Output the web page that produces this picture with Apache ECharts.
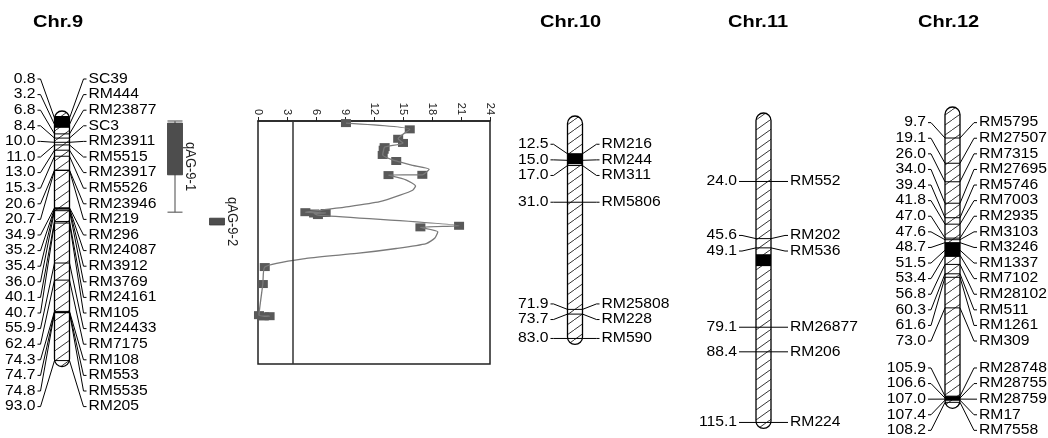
<!DOCTYPE html>
<html>
<head>
<meta charset="utf-8">
<style>
  html, body { margin: 0; padding: 0; background: #fff; }
  #chart { width: 1048px; height: 438px; }
</style>
</head>
<body>
<div id="chart"></div>
<script src="https://cdn.jsdelivr.net/npm/echarts@6/dist/echarts.min.js"></script>
<script>
// 染色体标记位置 (cM) 与名称
const chromTitles = ['Chr.9', 'Chr.10', 'Chr.11', 'Chr.12']
const chr9Pos = [0.8, 3.2, 6.8, 8.4, 10.0, 11.0, 13.0, 15.3, 20.6, 20.7, 34.9, 35.2, 35.4, 36.0, 40.1, 40.7, 55.9, 62.4, 74.3, 74.7, 74.8, 93.0]
const chr9Names = ['SC39', 'RM444', 'RM23877', 'SC3', 'RM23911', 'RM5515', 'RM23917', 'RM5526', 'RM23946', 'RM219', 'RM296', 'RM24087', 'RM3912', 'RM3769', 'RM24161', 'RM105', 'RM24433', 'RM7175', 'RM108', 'RM553', 'RM5535', 'RM205']
const chr9Bands = [[0, 4.5]]
const chr10Pos = [12.5, 15.0, 17.0, 31.0, 71.9, 73.7, 83.0]
const chr10Names = ['RM216', 'RM244', 'RM311', 'RM5806', 'RM25808', 'RM228', 'RM590']
const chr10Bands = [[12.5, 16.5]]
const chr11Pos = [24.0, 45.6, 49.1, 79.1, 88.4, 115.1]
const chr11Names = ['RM552', 'RM202', 'RM536', 'RM26877', 'RM206', 'RM224']
const chr11Bands = [[51.5, 56.0]]
const chr12Pos = [9.7, 19.1, 26.0, 34.0, 39.4, 41.8, 47.0, 47.6, 48.7, 51.5, 53.4, 56.8, 60.3, 61.6, 73.0, 105.9, 106.6, 107.0, 107.4, 108.2]
const chr12Names = ['RM5795', 'RM27507', 'RM7315', 'RM27695', 'RM5746', 'RM7003', 'RM2935', 'RM3103', 'RM3246', 'RM1337', 'RM7102', 'RM28102', 'RM511', 'RM1261', 'RM309', 'RM28748', 'RM28755', 'RM28759', 'RM17', 'RM7558']
const chr12Bands = [[48.7, 54.0], [105.9, 107.4]]

// Chr.9 LOD 曲线
const lodCurvePos = [0.8, 3.2, 6.8, 8.4, 10.0, 11.0, 13.0, 15.3, 17.0, 18.5, 20.6, 20.7, 22.5, 24.9, 26.5, 28.4, 30.9, 32.8, 34.1, 34.9, 35.2, 35.4, 36.0, 40.1, 40.7, 42.4, 44.8, 46.9, 48.8, 50.7, 52.6, 55.9, 62.4, 74.3, 74.7, 74.8]
const lodCurveVal = [9.1, 15.7, 14.5, 15.0, 13.1, 13.0, 12.9, 14.3, 16.0, 17.7, 17.0, 13.5, 15.3, 16.3, 16.0, 14.7, 12.6, 9.4, 6.6, 4.9, 7.0, 5.8, 6.2, 20.8, 16.8, 18.6, 18.3, 17.4, 14.3, 10.2, 5.0, 0.7, 0.5, 0.1, 1.2, 0.6]
const lodMarkerVal = [9.1, 15.7, 14.5, 15.0, 13.1, 13.0, 12.9, 14.3, 17.0, 13.5, 4.9, 7.0, 5.8, 6.2, 20.8, 16.8, 0.7, 0.5, 0.1, 1.2, 0.6, null]
const lodThreshold = 3.6
const lodMin = 0
const lodMax = 24
const lodStep = 3

// QTL 区间
const qtlNames = ['qAG-9-1', 'qAG-9-2']
const qtlBoxStart = [0.8, 37.2]
const qtlBoxEnd = [20.6, 39.8]
const qtlWhiskerStart = [0, null]
const qtlWhiskerEnd = [34.9, null]

// 布局
const chromW = 15
const labelGap = 15.6
const labelOffset = 19
const labelFont = '14px "Liberation Sans", Arial, sans-serif'
const labelScale = 1.12
const chromLayout = [
  { pos: chr9Pos, names: chr9Names, bands: chr9Bands, center: 62, top: 116, height: 263, max: 100, minLabelY: 79, titleX: 33 },
  { pos: chr10Pos, names: chr10Names, bands: chr10Bands, center: 575, top: 121, height: 262, max: 100, minLabelY: 60, titleX: 540 },
  { pos: chr11Pos, names: chr11Names, bands: chr11Bands, center: 763.5, top: 118, height: 317.4, max: 120, minLabelY: 60, titleX: 728 },
  { pos: chr12Pos, names: chr12Names, bands: chr12Bands, center: 952.5, top: 112, height: 322, max: 120, minLabelY: 60, titleX: 918 }
]

// 斜线填充
const hatch = document.createElement('canvas')
hatch.width = 14
hatch.height = 10
const hctx = hatch.getContext('2d')
hctx.fillStyle = '#fff'
hctx.fillRect(0, 0, 14, 10)
hctx.strokeStyle = '#000'
hctx.lineWidth = 0.8
hctx.beginPath()
hctx.moveTo(0, 10)
hctx.lineTo(14, 0)
hctx.stroke()

// 标签过密时均匀展开
function spreadLabels(ys, gap, minY) {
  let cl = ys.map((y) => ({ n: 1, sum: y, first: y }))
  let changed = true
  while (changed) {
    changed = false
    cl.forEach((c) => {
      c.first = Math.max(minY, c.sum / c.n - ((c.n - 1) * gap) / 2)
    })
    for (let i = 1; i < cl.length; i++) {
      const a = cl[i - 1]
      const b = cl[i]
      if (b.first < a.first + a.n * gap - 0.01) {
        const m = { n: a.n + b.n, sum: a.sum + b.sum, first: 0 }
        m.first = Math.max(minY, m.sum / m.n - ((m.n - 1) * gap) / 2)
        cl.splice(i - 1, 2, m)
        changed = true
        break
      }
    }
  }
  const out = []
  cl.forEach((c) => {
    for (let k = 0; k < c.n; k++) out.push(c.first + k * gap)
  })
  return out
}

const grids = []
const xAxes = []
const yAxes = []
const series = []
const graphics = []

chromLayout.forEach((c, k) => {
  grids.push({ left: c.center - 50, width: 100, top: c.top, height: c.height, outerBoundsMode: 'none' })
  xAxes.push({ gridIndex: k, type: 'value', min: -1, max: 1, show: false })
  yAxes.push({ gridIndex: k, type: 'value', min: 0, max: c.max, inverse: true, show: false })
  graphics.push({
    type: 'text',
    x: c.titleX,
    y: 15,
    scaleX: 1.25,
    style: { text: chromTitles[k], font: 'bold 16px "Liberation Sans", Arial, sans-serif', fill: '#000' }
  })

  // 染色体主体
  series.push({
    type: 'custom',
    xAxisIndex: k,
    yAxisIndex: k,
    clip: false,
    silent: true,
    data: [[0, 0, c.pos[c.pos.length - 1]]],
    renderItem: (params, api) => {
      const top = api.coord([0, api.value(1)])
      const bot = api.coord([0, api.value(2)])
      const x0 = top[0] - chromW / 2
      const y0 = top[1] - 5
      const y1 = bot[1] + 6
      const children = [
        { type: 'rect', shape: { x: x0, y: y0, width: chromW, height: y1 - y0, r: chromW / 2 }, style: { fill: { image: hatch, repeat: 'repeat' }, stroke: null } }
      ]
      c.bands.forEach((b) => {
        const a = api.coord([0, b[0]])[1]
        const e = api.coord([0, b[1]])[1]
        children.push({ type: 'rect', shape: { x: x0, y: a, width: chromW, height: e - a }, style: { fill: '#000' } })
      })
      children.push({ type: 'rect', shape: { x: x0, y: y0, width: chromW, height: y1 - y0, r: chromW / 2 }, style: { fill: null, stroke: '#000', lineWidth: 1.3 } })
      return { type: 'group', children }
    }
  })

  // 标记与标签
  series.push({
    type: 'custom',
    xAxisIndex: k,
    yAxisIndex: k,
    clip: false,
    silent: true,
    data: c.pos.map((p) => [0, p]),
    renderItem: (params, api) => {
      const ys = c.pos.map((p) => api.coord([0, p])[1])
      const ly = spreadLabels(ys, labelGap, c.minLabelY)
      const i = params.dataIndex
      const pt = api.coord([0, c.pos[i]])
      const cx = pt[0]
      const my = pt[1]
      const half = chromW / 2
      const lx = cx - half - labelOffset
      const rx = cx + half + labelOffset
      return {
        type: 'group',
        children: [
          {
            type: 'polyline',
            shape: { points: [[lx + 2, ly[i]], [lx + 5, ly[i]], [cx - half, my], [cx + half, my], [rx - 5, ly[i]], [rx - 2, ly[i]]] },
            style: { stroke: '#000', lineWidth: 1, fill: null }
          },
          { type: 'text', x: lx, y: ly[i], scaleX: labelScale, style: { text: c.pos[i].toFixed(1), align: 'right', verticalAlign: 'middle', font: labelFont, fill: '#000' } },
          { type: 'text', x: rx, y: ly[i], scaleX: labelScale, style: { text: c.names[i], align: 'left', verticalAlign: 'middle', font: labelFont, fill: '#000' } }
        ]
      }
    }
  })
})

// LOD 图
const chr9Len = chr9Pos[chr9Pos.length - 1]
grids.push({ left: 258, top: 121, width: 232, height: 243, show: true, borderColor: '#222', borderWidth: 1.5, outerBoundsMode: 'none' })
xAxes.push({
  gridIndex: 4,
  type: 'value',
  position: 'top',
  min: lodMin,
  max: lodMax,
  interval: lodStep,
  axisLine: { show: true, lineStyle: { color: '#222', width: 1.5 } },
  axisTick: { show: true, length: 4, lineStyle: { color: '#222' } },
  axisLabel: { rotate: -90, fontSize: 11, color: '#222', margin: 6, fontFamily: 'Liberation Sans' },
  splitLine: { show: false }
})
yAxes.push({ gridIndex: 4, type: 'value', min: 0, max: chr9Len, inverse: true, show: false })
series.push({
  type: 'line',
  xAxisIndex: 4,
  yAxisIndex: 4,
  data: lodCurvePos.map((p, i) => [lodCurveVal[i], p]),
  showSymbol: false,
  smooth: 0.2,
  lineStyle: { color: '#7a7a7a', width: 1.3 },
  silent: true,
  markLine: {
    silent: true,
    symbol: 'none',
    label: { show: false },
    lineStyle: { color: '#333', width: 1.5, type: 'solid' },
    data: [{ xAxis: lodThreshold }]
  }
})
series.push({
  type: 'scatter',
  xAxisIndex: 4,
  yAxisIndex: 4,
  symbol: 'rect',
  symbolSize: [10, 8],
  itemStyle: { color: '#595959', opacity: 1 },
  silent: true,
  data: chr9Pos.map((p, i) => [lodMarkerVal[i], p]).filter((d) => d[0] !== null)
})

// QTL 区间
grids.push({ left: 154, top: 121, width: 84, height: 243, outerBoundsMode: 'none' })
xAxes.push({ gridIndex: 5, type: 'category', data: qtlNames, show: false })
yAxes.push({ gridIndex: 5, type: 'value', min: 0, max: chr9Len, inverse: true, show: false })
series.push({
  type: 'custom',
  xAxisIndex: 5,
  yAxisIndex: 5,
  clip: false,
  silent: true,
  data: qtlNames.map((n, i) => [i, qtlBoxStart[i], qtlBoxEnd[i]]),
  renderItem: (params, api) => {
    const i = params.dataIndex
    const a = api.coord([i, qtlBoxStart[i]])
    const b = api.coord([i, qtlBoxEnd[i]])
    const w = 15
    const cx = a[0]
    const children = []
    let labelY = (a[1] + b[1]) / 2
    if (qtlWhiskerStart[i] !== null) {
      const ws = api.coord([i, qtlWhiskerStart[i]])[1]
      const we = api.coord([i, qtlWhiskerEnd[i]])[1]
      children.push({ type: 'line', shape: { x1: cx, y1: ws, x2: cx, y2: we }, style: { stroke: '#666', lineWidth: 1.2 } })
      children.push({ type: 'line', shape: { x1: cx - w / 2, y1: ws, x2: cx + w / 2, y2: ws }, style: { stroke: '#666', lineWidth: 1.2 } })
      children.push({ type: 'line', shape: { x1: cx - w / 2, y1: we, x2: cx + w / 2, y2: we }, style: { stroke: '#666', lineWidth: 1.2 } })
      labelY = (ws + we) / 2
    }
    children.push({ type: 'rect', shape: { x: cx - w / 2, y: a[1], width: w, height: b[1] - a[1] }, style: { fill: '#4d4d4d', stroke: '#3a3a3a', lineWidth: 0.8 } })
    children.push({
      type: 'text',
      x: cx + w / 2 + 8,
      y: labelY,
      rotation: -Math.PI / 2,
      scaleY: 1.15,
      style: { text: qtlNames[i], align: 'center', verticalAlign: 'middle', font: '13px "Liberation Sans", Arial, sans-serif', fill: '#222' }
    })
    return { type: 'group', children }
  }
})

const myChart = echarts.init(document.getElementById('chart'), null, { renderer: 'canvas' })
myChart.setOption({
  backgroundColor: '#fff',
  animation: false,
  grid: grids,
  xAxis: xAxes,
  yAxis: yAxes,
  graphic: graphics,
  series: series
})
</script>
</body>
</html>
